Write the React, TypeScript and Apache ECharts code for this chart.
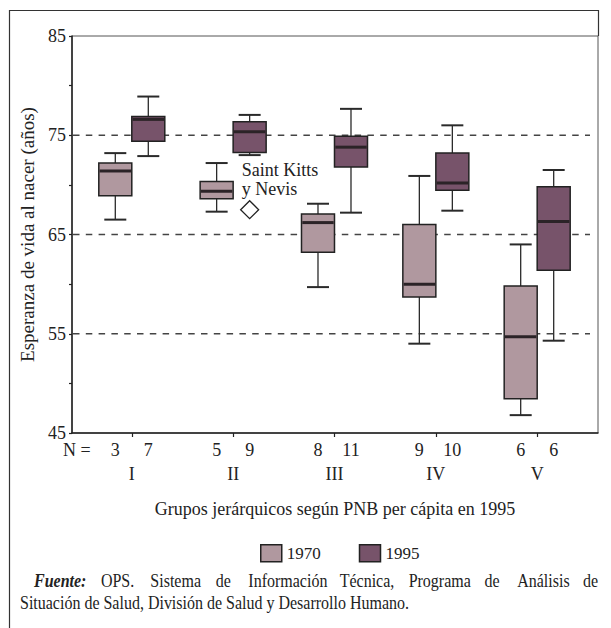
import React, { useEffect, useRef } from 'react';
import * as echarts from 'echarts';

// ---- data ----
const groups = ['I', 'II', 'III', 'IV', 'V'];
const groupPos = [1, 2, 3, 4, 5];
// [min, Q1, median, Q3, max]
const box1970 = [
  [66.5, 68.9, 71.4, 72.2, 73.2],
  [67.3, 68.6, 69.35, 70.35, 72.2],
  [59.7, 63.2, 66.2, 67.06, 68.1],
  [54.0, 58.7, 60.0, 66.0, 70.9],
  [46.8, 48.45, 54.7, 59.8, 64.0],
];
const box1995 = [
  [72.9, 74.4, 76.6, 76.9, 78.9],
  [73.0, 73.27, 75.35, 76.35, 77.05],
  [67.2, 71.8, 73.8, 74.9, 77.66],
  [67.4, 69.45, 70.2, 73.2, 76.0],
  [54.3, 61.4, 66.3, 69.8, 71.5],
];
const n1970 = [3, 5, 8, 9, 6];
const n1995 = [7, 9, 11, 10, 6];
const outliers1995 = [{ group: 1, value: 67.5, label: 'Saint Kitts\ny Nevis' }];
const yLabelValues = [45, 55, 65, 75, 85];
const refLines = [55, 65, 75];
const seriesNames = ['1970', '1995'];
const xTitle = 'Grupos jerárquicos según PNB per cápita en 1995';
const yTitle = 'Esperanza de vida al nacer (años)';
const footerBold = 'Fuente:';
const footerLine1 = 'OPS. Sistema de Información Técnica, Programa de Análisis de';
const footerLine2 = 'Situación de Salud, División de Salud y Desarrollo Humano.';

// ---- style ----
const FONT = '"Liberation Serif", "Times New Roman", serif';
const C1970 = '#b0989f';
const C1995 = '#77536a';
const INK = '#222';
const HALF = 16.5;
const BOXW = 33;
const CAP = 11;

function makeBoxRender(side: number, fill: string) {
  return (params: any, api: any) => {
    const gx = api.value(0);
    const base = api.coord([gx, 45]);
    const cx = base[0] + side * HALF;
    const y = (v: number) => api.coord([gx, v])[1];
    const yMin = y(api.value(1));
    const yQ1 = y(api.value(2));
    const yMed = y(api.value(3));
    const yQ3 = y(api.value(4));
    const yMax = y(api.value(5));
    const wl = { stroke: '#2a2a2a', lineWidth: 1.3 };
    const cl = { stroke: '#2a2a2a', lineWidth: 2 };
    return {
      type: 'group',
      children: [
        { type: 'line', shape: { x1: cx, y1: yMax, x2: cx, y2: yQ3 }, style: wl },
        { type: 'line', shape: { x1: cx, y1: yQ1, x2: cx, y2: yMin }, style: wl },
        { type: 'line', shape: { x1: cx - CAP, y1: yMax, x2: cx + CAP, y2: yMax }, style: cl },
        { type: 'line', shape: { x1: cx - CAP, y1: yMin, x2: cx + CAP, y2: yMin }, style: cl },
        {
          type: 'rect',
          shape: { x: cx - BOXW / 2, y: yQ3, width: BOXW, height: yQ1 - yQ3 },
          style: { fill, stroke: INK, lineWidth: 1.5 },
        },
        {
          type: 'line',
          shape: { x1: cx - BOXW / 2 + 0.8, y1: yMed, x2: cx + BOXW / 2 - 0.8, y2: yMed },
          style: { stroke: '#2b2327', lineWidth: 3 },
        },
        {
          type: 'text',
          x: cx,
          y: base[1] + 17,
          style: {
            text: String(api.value(6)),
            align: 'center',
            verticalAlign: 'middle',
            fontSize: 18,
            fontFamily: FONT,
            fill: INK,
          },
        },
      ],
    };
  };
}

export default function App() {
  const ref = useRef<HTMLDivElement>(null);
  useEffect(() => {
    document.body.style.margin = '0';
    const el = ref.current!;
    const chart = echarts.init(el, null, { renderer: 'svg' });

    // footer layout (justified first line)
    const ctx = document.createElement('canvas').getContext('2d')!;
    const FS = 18;
    const regFont = `${FS}px ${FONT}`;
    const boldFont = `italic bold ${FS}px ${FONT}`;
    const measure = (t: string, f: string) => {
      ctx.font = f;
      return ctx.measureText(t).width;
    };
    const line2Width = 357;
    const sx = (line2Width / measure(footerLine2, regFont)) * 1.09;
    const words = [footerBold, ...footerLine1.split(' ')];
    const wFonts = words.map((_, i) => (i === 0 ? boldFont : regFont));
    const wWidths = words.map((w, i) => (measure(w, wFonts[i]) * sx) / 1.09);
    const L1 = 34, R1 = 598;
    const lastW = wWidths[wWidths.length - 1];
    const gap = (R1 - L1 - wWidths.reduce((a, b) => a + b, 0)) / (words.length - 1);
    let cursor = L1;
    const footerEls: any[] = words.map((w, i) => {
      const isLast = i === words.length - 1;
      const e = {
        type: 'text',
        x: isLast ? R1 : cursor,
        y: 581,
        scaleX: sx,
        style: {
          text: w,
          font: wFonts[i],
          fill: INK,
          verticalAlign: 'middle',
          align: isLast ? 'right' : 'left',
        },
      };
      cursor += wWidths[i] + gap;
      return e;
    });
    void lastW;
    footerEls.push({
      type: 'text',
      x: 20,
      y: 603,
      scaleX: sx,
      style: { text: footerLine2, font: regFont, fill: INK, verticalAlign: 'middle' },
    });

    const option: any = {
      animation: false,
      textStyle: { fontFamily: FONT },
      grid: {
        left: 72,
        right: 13,
        top: 36,
        bottom: 195,
        show: true,
        borderColor: '#555',
        borderWidth: 1,
        backgroundColor: 'transparent',
      },
      legend: {
        left: 255,
        top: 539,
        itemWidth: 21,
        itemHeight: 17,
        itemGap: 38,
        textStyle: { fontSize: 17, color: INK, fontFamily: FONT },
        data: [
          { name: seriesNames[0], icon: 'rect', itemStyle: { color: C1970, borderColor: INK, borderWidth: 1.5 } },
          { name: seriesNames[1], icon: 'rect', itemStyle: { color: C1995, borderColor: INK, borderWidth: 1.5 } },
        ],
        selectedMode: false,
      },
      xAxis: {
        type: 'value',
        min: 0.41,
        max: 5.6,
        name: xTitle,
        nameLocation: 'middle',
        nameGap: 67,
        nameTextStyle: { fontSize: 18, color: INK, fontFamily: FONT },
        axisLine: { show: true, lineStyle: { color: INK, width: 1.5 } },
        axisTick: { show: true, customValues: groupPos, length: 4, lineStyle: { color: INK, width: 1.2 } },
        axisLabel: {
          show: true,
          customValues: groupPos,
          formatter: (v: number) => groups[Math.round(v) - 1] ?? '',
          margin: 32,
          fontSize: 18,
          color: INK,
          fontFamily: FONT,
        },
        splitLine: { show: false },
      },
      yAxis: {
        type: 'value',
        min: 45,
        max: 85,
        interval: 5,
        name: yTitle,
        nameLocation: 'middle',
        nameGap: 35,
        nameRotate: 90,
        nameTextStyle: { fontSize: 19, color: INK, fontFamily: FONT },
        axisLine: { show: true, lineStyle: { color: INK, width: 1.5 } },
        axisTick: { show: true, length: 3, lineStyle: { color: INK, width: 1.2 } },
        axisLabel: {
          formatter: (v: number) => (yLabelValues.includes(v) ? String(v) : ''),
          margin: 6,
          fontSize: 18,
          color: INK,
          fontFamily: FONT,
          padding: [0, 0, 6, 0],
        },
        splitLine: { show: false },
      },
      graphic: [
        {
          type: 'polyline',
          shape: { points: [[9.5, 628], [9.5, 10.5], [598.5, 10.5], [598.5, 36]] },
          style: { stroke: '#333', lineWidth: 1.2, fill: 'none' },
          silent: true,
        },
        {
          type: 'text',
          x: 63,
          y: 450,
          style: { text: 'N =', fontSize: 18, fontFamily: FONT, fill: INK, verticalAlign: 'middle' },
        },
        ...footerEls,
      ],
      series: [
        {
          name: 'ref',
          type: 'custom',
          z: 1,
          silent: true,
          clip: false,
          encode: { x: 0, y: 1 },
          data: refLines.map((v) => [1, v]),
          renderItem: (params: any, api: any) => {
            const cs = params.coordSys;
            const yy = api.coord([1, api.value(1)])[1];
            return {
              type: 'line',
              shape: { x1: cs.x + 1, y1: yy, x2: cs.x + cs.width - 8, y2: yy },
              style: { stroke: '#444', lineWidth: 1.4, lineDash: [6.5, 6.3] },
            };
          },
        },
        {
          name: seriesNames[0],
          type: 'custom',
          z: 3,
          clip: false,
          itemStyle: { color: C1970 },
          encode: { x: 0, y: [1, 2, 3, 4, 5] },
          data: box1970.map((b, i) => [groupPos[i], ...b, n1970[i]]),
          renderItem: makeBoxRender(-1, C1970),
        },
        {
          name: seriesNames[1],
          type: 'custom',
          z: 3,
          clip: false,
          itemStyle: { color: C1995 },
          encode: { x: 0, y: [1, 2, 3, 4, 5] },
          data: box1995.map((b, i) => [groupPos[i], ...b, n1995[i]]),
          renderItem: makeBoxRender(1, C1995),
        },
        {
          name: 'outliers',
          type: 'custom',
          z: 4,
          clip: false,
          encode: { x: 0, y: 1 },
          data: outliers1995.map((o) => [groupPos[o.group], o.value]),
          renderItem: (params: any, api: any) => {
            const p = api.coord([api.value(0), api.value(1)]);
            const cx = p[0] + HALF;
            const cy = p[1];
            const o = outliers1995[params.dataIndex];
            return {
              type: 'group',
              children: [
                {
                  type: 'polygon',
                  shape: { points: [[cx, cy - 9], [cx + 9, cy], [cx, cy + 9], [cx - 9, cy]] },
                  style: { fill: '#fff', stroke: INK, lineWidth: 1.3 },
                },
                {
                  type: 'text',
                  x: cx - 8,
                  y: cy - 30,
                  style: {
                    text: o.label,
                    fontSize: 18,
                    fontFamily: FONT,
                    fill: INK,
                    verticalAlign: 'middle',
                    lineHeight: 19,
                  },
                },
              ],
            };
          },
        },
      ],
    };
    chart.setOption(option);
    return () => chart.dispose();
  }, []);
  return (
    <div
      ref={ref}
      style={{ position: 'fixed', left: 0, top: 0, width: 611, height: 628, background: '#fff' }}
    />
  );
}
